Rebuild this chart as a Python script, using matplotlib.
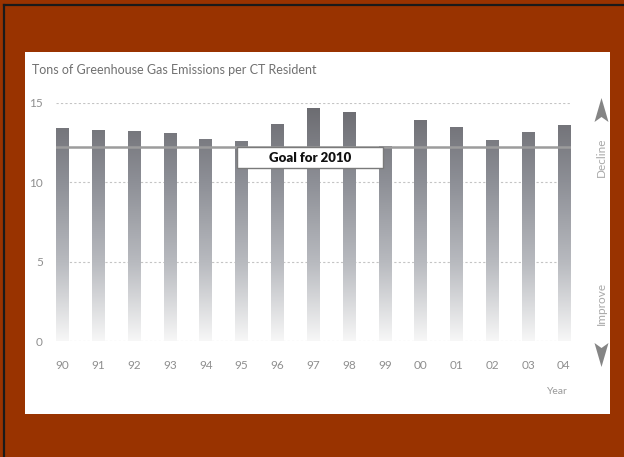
import matplotlib
matplotlib.use('Agg')
import matplotlib.pyplot as plt
import numpy as np
from matplotlib.colors import LinearSegmentedColormap
from matplotlib.patches import Rectangle, Polygon
from matplotlib.lines import Line2D

# ---- data ----
years = ['90', '91', '92', '93', '94', '95', '96', '97', '98', '99', '00', '01', '02', '03', '04']
emissions = [13.44, 13.31, 13.25, 13.09, 12.75, 12.58, 13.67, 14.70, 14.41, 12.29,
             13.93, 13.47, 12.65, 13.17, 13.61]
goal_2010 = 12.2
y_ticks = [0, 5, 10, 15]
title = 'Tons of Greenhouse Gas Emissions per CT Resident'
goal_label = 'Goal for 2010'
x_label = 'Year'

plt.rcParams['font.family'] = ['Lato', 'DejaVu Sans']

W, H = 624, 457
fig = plt.figure(figsize=(W / 100, H / 100), dpi=100, facecolor='#993300')


def fx(x):
    return x / W


def fy(y):
    return 1 - y / H


# white panel
fig.add_artist(Rectangle((fx(25), fy(414)), fx(610) - fx(25), fy(52) - fy(414),
                         transform=fig.transFigure, facecolor='white',
                         edgecolor='none', zorder=0))
# dark border lines (top / left)
fig.add_artist(Line2D([fx(4), fx(624)], [fy(5), fy(5)], transform=fig.transFigure,
                      color='#1a1a1a', lw=1.6, zorder=1))
fig.add_artist(Line2D([fx(4), fx(4)], [fy(5), fy(457)], transform=fig.transFigure,
                      color='#1a1a1a', lw=1.6, zorder=1))

ax = fig.add_axes([fx(56), fy(341), (571 - 56) / W, (341 - 103) / H])
ax.set_facecolor('none')
for s in ax.spines.values():
    s.set_visible(False)

x = np.arange(len(years))
cmap = LinearSegmentedColormap.from_list(
    'barfade', [(0.0, '#f7f7f7'), (0.33, '#b8babf'), (0.67, '#8d8f96'), (1.0, '#6a6a6f')])
grad = np.linspace(0, 1, 256).reshape(-1, 1)

bars = ax.bar(x, emissions, width=0.35, color='none', edgecolor='none', zorder=2)
for b in bars:
    im = ax.imshow(grad, extent=[b.get_x(), b.get_x() + b.get_width(), 0, 15],
                   origin='lower', aspect='auto', cmap=cmap, vmin=0, vmax=1,
                   zorder=2, interpolation='bilinear')
    im.set_clip_path(b)

ax.set_xlim(-0.18, 14.2)
ax.set_ylim(0, 15)
ax.set_aspect('auto')

ax.set_yticks(y_ticks)
ax.set_xticks(x)
ax.set_xticklabels(years)
ax.grid(axis='y', color='#c4c4c4', linestyle=(0, (2, 2)), linewidth=0.8)
ax.set_axisbelow(True)
ax.tick_params(axis='both', length=0, colors='#8f8f8f', labelsize=8.5)
ax.tick_params(axis='y', pad=9.5)
ax.tick_params(axis='x', pad=14)

# goal line and label
ax.axhline(goal_2010, color='#9c9c9c', lw=1.8, zorder=3)
bx = 6.91
bw = 4.1
bh = 1.32
ax.add_patch(Rectangle((bx - bw / 2, goal_2010 - bh), bw, bh, facecolor='white',
                       edgecolor='#7a7a7a', lw=1, zorder=4))
ax.text(bx, goal_2010 - bh / 2, goal_label, ha='center', va='center',
        fontsize=9.5, fontweight='heavy', color='#111111', zorder=5)

# texts
fig.text(fx(32), fy(70), title, ha='left', va='center', fontsize=9, color='#707070')
fig.text(fx(557), fy(392), x_label, ha='center', va='center', fontsize=7.5, color='#999999')
fig.text(fx(601), fy(157), 'Decline', rotation=90, ha='center', va='center',
         fontsize=8.5, color='#a8a8a8')
fig.text(fx(601), fy(303), 'Improve', rotation=90, ha='center', va='center',
         fontsize=8.5, color='#a8a8a8')

# arrows
up = [(601.5, 98), (608.5, 122), (601.5, 117), (594.5, 122)]
down = [(601.5, 367), (608.5, 343), (601.5, 348), (594.5, 343)]
for pts in (up, down):
    fig.add_artist(Polygon([(fx(a), fy(b)) for a, b in pts], closed=True,
                           transform=fig.transFigure, facecolor='#858585',
                           edgecolor='none', zorder=3))

fig.savefig('out.png', dpi=100, facecolor=fig.get_facecolor())
